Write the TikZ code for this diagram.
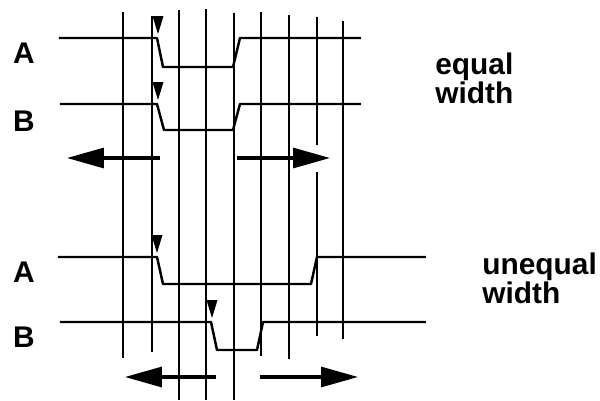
\documentclass[tikz,border=0pt]{standalone}
\usepackage{fontspec}
\setmainfont{Liberation Sans}
\usetikzlibrary{arrows.meta}

\begin{document}
\begin{tikzpicture}[x=0.02cm,y=-0.02cm,
                    gridline/.style={line width=0.6pt},
                    wave/.style={line width=1.4pt,line join=round},
                    shiftarrow/.style={line width=1.8pt,-{Triangle[length=7.4mm,width=4mm]}},
                    edgetick/.pic={\fill (-5.5,-18) -- (5.5,-18) -- (0,0) -- cycle;},
                    every node/.style={font=\fontsize{17}{20}\selectfont\bfseries,inner sep=0pt}]
   \useasboundingbox (0,0) rectangle (600,400);
   % vertical time grid
   \draw[gridline] (123,12) -- (123,358);
   \draw[gridline] (152,16) -- (152,352);
   \draw[gridline] (179,10) -- (179,400);
   \draw[gridline] (206,9)  -- (206,400);
   \draw[gridline] (234,13) -- (234,400);
   \draw[gridline] (261,12) -- (261,356);
   \draw[gridline] (289,15) -- (289,359);
   \draw[gridline] (317,17) -- (317,145); \draw[gridline] (317,172) -- (317,336);
   \draw[gridline] (343,21) -- (343,339);
   % signal names
   \node (eqA) at (24,53)  {A};
   \node (eqB) at (24,121) {B};
   \node (unA) at (24,272) {A};
   \node (unB) at (24,337) {B};
   \node[align=left,anchor=north west,font=\fontsize{17}{14.5}\selectfont\bfseries] (eqtxt) at (435,52) {equal\\width};
   \node[align=left,anchor=north west,font=\fontsize{17}{17}\selectfont\bfseries] (untxt) at (482,252) {unequal\\width};
   % equal width pulses
   \draw[wave] (59,38) -- (157,38) -- (163,67) -- (233,67) -- (240,38) -- (361,38);
   \draw[wave] (60,104) -- (157,104) -- (164,130) -- (233,130) -- (240,104) -- (361,104);
   \pic at (158,34) {edgetick};
   \pic at (158,100) {edgetick};
   % unequal width pulses
   \draw[wave] (58,257) -- (157,257) -- (163,284) -- (311,284) -- (317,257) -- (426,257);
   \draw[wave] (60,322) -- (211,322) -- (217,350) -- (257,350) -- (263,322) -- (426,322);
   \pic at (157,253) {edgetick};
   \pic at (212,318) {edgetick};
   % shift arrows
   \coordinate (eqLs) at (160,158); \coordinate (eqLe) at (67,158);
   \coordinate (eqRs) at (237,158); \coordinate (eqRe) at (330,158);
   \coordinate (unLs) at (216,377); \coordinate (unLe) at (125,377);
   \coordinate (unRs) at (260,377); \coordinate (unRe) at (358,377);
   \draw[shiftarrow] (eqLs) -- (eqLe);
   \draw[shiftarrow] (eqRs) -- (eqRe);
   \draw[shiftarrow] (unLs) -- (unLe);
   \draw[shiftarrow] (unRs) -- (unRe);
\end{tikzpicture}
\end{document}
